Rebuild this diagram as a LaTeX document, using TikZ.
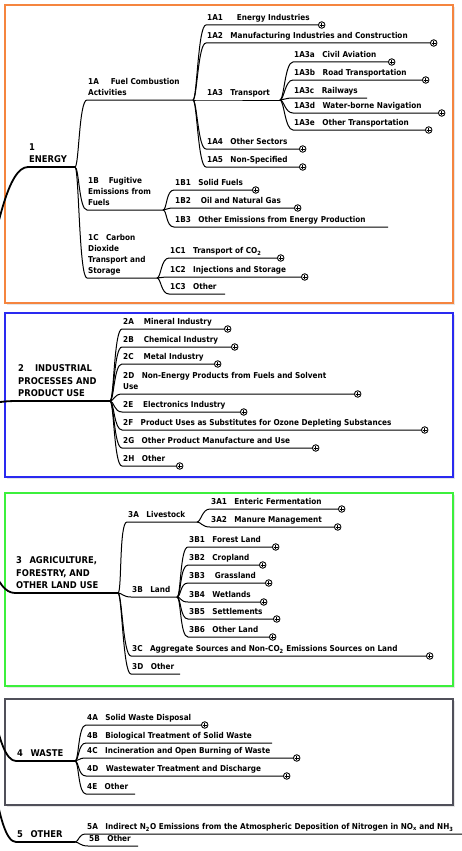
\documentclass[tikz,border=0pt]{standalone}
\usepackage{fontspec}
\setmainfont{DejaVu Sans Condensed}
\usetikzlibrary{shadows}

\definecolor{energyorange}{HTML}{F5853F}
\definecolor{ippublue}{HTML}{2A2AF0}
\definecolor{afolugreen}{HTML}{3CF03C}
\definecolor{wastegray}{HTML}{50505A}

\newcommand\gap[1][7.5pt]{\hspace{#1}}

\tikzset{
  topic/.style={anchor=south west, align=left, inner xsep=1pt, inner ysep=2pt, text depth=2pt,
    font=\fontsize{9.3}{12.5}\selectfont\bfseries},
  subtopic/.style={anchor=south west, align=left, inner xsep=1pt, inner ysep=2pt, text depth=2pt,
    font=\fontsize{8.1}{11}\selectfont\bfseries},
  branch/.style={line width=1pt, draw=black},
  mainbranch/.style={line width=1.8pt, draw=black},
  topline/.style={line width=1.3pt, draw=black},
  expander/.style={circle, draw=black, fill=white, line width=0.9pt, anchor=west,
    minimum size=6.5pt, inner sep=0pt,
    path picture={\draw[line width=0.6pt]
      ([xshift=-1.8pt]path picture bounding box.center) -- ([xshift=1.8pt]path picture bounding box.center)
      ([yshift=-1.8pt]path picture bounding box.center) -- ([yshift=1.8pt]path picture bounding box.center);}},
  sectorbox/.style={draw=#1, line width=1.3pt, fill=white,
    drop shadow={opacity=0.2, shadow xshift=1.5pt, shadow yshift=-2pt}}
}

\begin{document}
\begin{tikzpicture}[x=1pt,y=-1pt]
  \useasboundingbox (0,0) rectangle (461,851);

  % sector frames
  \draw[sectorbox=energyorange] (5,5) rectangle (453,303);
  \draw[sectorbox=ippublue] (5,313) rectangle (453,477);
  \draw[sectorbox=afolugreen] (5,493) rectangle (453,686);
  \draw[sectorbox=wastegray] (5,699) rectangle (453,805);

  \coordinate (root) at (-60,415);

  % 1 energy
  \node[topic] (n1) at (28,167) {1\\ENERGY};
  \draw[mainbranch] (root) .. controls +(40,0) and +(-40,0) .. (n1.south west);
  \draw[topline] (n1.south west) -- ++(47,0) coordinate (e1);

  \node[subtopic] (n1A) at (87,100) {1A\gap[12pt]Fuel Combustion\\Activities};
  \draw[branch] (e1) .. controls +(4,0) and +(-8,0) .. (n1A.south west) -- ++(106,0) coordinate (e1A);
  \node[subtopic] (n1A1) at (206,25) {1A1\gap[14pt]Energy Industries};
  \draw[branch] (e1A) .. controls +(4,0) and +(-8,0) .. (n1A1.south west) -- ++(112,0) node[expander] {};
  \node[subtopic] (n1A2) at (206,43) {1A2\gap Manufacturing Industries and Construction};
  \draw[branch] (e1A) .. controls +(4,0) and +(-8,0) .. (n1A2.south west) -- ++(224,0) node[expander] {};
  \node[subtopic] (n1A3) at (206,100) {1A3\gap Transport};
  \draw[branch] (e1A) .. controls +(4,0) and +(-8,0) .. (n1A3.south west) -- ++(74,0) coordinate (e1A3);
  \node[subtopic] (n1A3a) at (293,62) {1A3a\gap Civil Aviation};
  \draw[branch] (e1A3) .. controls +(4,0) and +(-8,0) .. (n1A3a.south west) -- ++(95,0) node[expander] {};
  \node[subtopic] (n1A3b) at (293,80) {1A3b\gap Road Transportation};
  \draw[branch] (e1A3) .. controls +(4,0) and +(-8,0) .. (n1A3b.south west) -- ++(129,0) node[expander] {};
  \node[subtopic] (n1A3c) at (293,98) {1A3c\gap Railways};
  \draw[branch] (e1A3) .. controls +(4,0) and +(-8,0) .. (n1A3c.south west) -- ++(74,0);
  \node[subtopic] (n1A3d) at (293,113) {1A3d\gap Water-borne Navigation};
  \draw[branch] (e1A3) .. controls +(4,0) and +(-8,0) .. (n1A3d.south west) -- ++(145,0) node[expander] {};
  \node[subtopic] (n1A3e) at (293,130) {1A3e\gap Other Transportation};
  \draw[branch] (e1A3) .. controls +(4,0) and +(-8,0) .. (n1A3e.south west) -- ++(132,0) node[expander] {};
  \node[subtopic] (n1A4) at (206,149) {1A4\gap Other Sectors};
  \draw[branch] (e1A) .. controls +(4,0) and +(-8,0) .. (n1A4.south west) -- ++(93,0) node[expander] {};
  \node[subtopic] (n1A5) at (206,167) {1A5\gap Non-Specified};
  \draw[branch] (e1A) .. controls +(4,0) and +(-8,0) .. (n1A5.south west) -- ++(93,0) node[expander] {};

  \node[subtopic] (n1B) at (87,210) {1B\gap[10pt]Fugitive\\Emissions from\\Fuels};
  \draw[branch] (e1) .. controls +(4,0) and +(-8,0) .. (n1B.south west) -- ++(76,0) coordinate (e1B);
  \node[subtopic] (n1B1) at (174,190) {1B1\gap Solid Fuels};
  \draw[branch] (e1B) .. controls +(4,0) and +(-8,0) .. (n1B1.south west) -- ++(78,0) node[expander] {};
  \node[subtopic] (n1B2) at (174,208) {1B2\gap[10pt]Oil and Natural Gas};
  \draw[branch] (e1B) .. controls +(4,0) and +(-8,0) .. (n1B2.south west) -- ++(120,0) node[expander] {};
  \node[subtopic] (n1B3) at (174,227) {1B3\gap Other Emissions from Energy Production};
  \draw[branch] (e1B) .. controls +(4,0) and +(-8,0) .. (n1B3.south west) -- ++(214,0);

  \node[subtopic] (n1C) at (87,278) {1C\gap Carbon\\Dioxide\\Transport and\\Storage};
  \draw[branch] (e1) .. controls +(4,0) and +(-8,0) .. (n1C.south west) -- ++(70,0) coordinate (e1C);
  \node[subtopic] (n1C1) at (169,258) {1C1\gap Transport of CO\textsubscript{2}};
  \draw[branch] (e1C) .. controls +(4,0) and +(-8,0) .. (n1C1.south west) -- ++(108,0) node[expander] {};
  \node[subtopic] (n1C2) at (169,277) {1C2\gap Injections and Storage};
  \draw[branch] (e1C) .. controls +(4,0) and +(-8,0) .. (n1C2.south west) -- ++(132,0) node[expander] {};
  \node[subtopic] (n1C3) at (169,294) {1C3\gap Other};
  \draw[branch] (e1C) .. controls +(4,0) and +(-8,0) .. (n1C3.south west) -- ++(56,0);

  % 2 industrial processes
  \node[topic] (n2) at (17,401) {2\gap[11pt]INDUSTRIAL\\PROCESSES AND\\PRODUCT USE};
  \draw[mainbranch] (root) .. controls +(40,0) and +(-40,0) .. (n2.south west);
  \draw[topline] (n2.south west) -- ++(93,0) coordinate (e2);
  \node[subtopic] (n2A) at (122,329) {2A\gap[10pt]Mineral Industry};
  \draw[branch] (e2) .. controls +(4,0) and +(-8,0) .. (n2A.south west) -- ++(102,0) node[expander] {};
  \node[subtopic] (n2B) at (122,347) {2B\gap[10pt]Chemical Industry};
  \draw[branch] (e2) .. controls +(4,0) and +(-8,0) .. (n2B.south west) -- ++(109,0) node[expander] {};
  \node[subtopic] (n2C) at (122,364) {2C\gap[10pt]Metal Industry};
  \draw[branch] (e2) .. controls +(4,0) and +(-8,0) .. (n2C.south west) -- ++(92,0) node[expander] {};
  \node[subtopic] (n2D) at (122,394) {2D\gap Non-Energy Products from Fuels and Solvent\\Use};
  \draw[branch] (e2) .. controls +(4,0) and +(-8,0) .. (n2D.south west) -- ++(232,0) node[expander] {};
  \node[subtopic] (n2E) at (122,412) {2E\gap[10pt]Electronics Industry};
  \draw[branch] (e2) .. controls +(4,0) and +(-8,0) .. (n2E.south west) -- ++(118,0) node[expander] {};
  \node[subtopic] (n2F) at (122,430) {2F\gap Product Uses as Substitutes for Ozone Depleting Substances};
  \draw[branch] (e2) .. controls +(4,0) and +(-8,0) .. (n2F.south west) -- ++(299,0) node[expander] {};
  \node[subtopic] (n2G) at (122,448) {2G\gap Other Product Manufacture and Use};
  \draw[branch] (e2) .. controls +(4,0) and +(-8,0) .. (n2G.south west) -- ++(190,0) node[expander] {};
  \node[subtopic] (n2H) at (122,466) {2H\gap Other};
  \draw[branch] (e2) .. controls +(4,0) and +(-8,0) .. (n2H.south west) -- ++(54,0) node[expander] {};

  % 3 afolu
  \node[topic] (n3) at (15,593) {3\gap AGRICULTURE,\\FORESTRY, AND\\OTHER LAND USE};
  \draw[mainbranch] (root) .. controls +(40,0) and +(-40,0) .. (n3.south west);
  \draw[topline] (n3.south west) -- ++(103,0) coordinate (e3);
  \node[subtopic] (n3A) at (127,522) {3A\gap Livestock};
  \draw[branch] (e3) .. controls +(4,0) and +(-8,0) .. (n3A.south west) -- ++(70,0) coordinate (e3A);
  \node[subtopic] (n3A1) at (210,509) {3A1\gap Enteric Fermentation};
  \draw[branch] (e3A) .. controls +(4,0) and +(-8,0) .. (n3A1.south west) -- ++(128,0) node[expander] {};
  \node[subtopic] (n3A2) at (210,527) {3A2\gap Manure Management};
  \draw[branch] (e3A) .. controls +(4,0) and +(-8,0) .. (n3A2.south west) -- ++(124,0) node[expander] {};
  \node[subtopic] (n3B) at (131,597) {3B\gap Land};
  \draw[branch] (e3) .. controls +(4,0) and +(-8,0) .. (n3B.south west) -- ++(46,0) coordinate (e3B);
  \node[subtopic] (n3B1) at (188,547) {3B1\gap Forest Land};
  \draw[branch] (e3B) .. controls +(4,0) and +(-8,0) .. (n3B1.south west) -- ++(84,0) node[expander] {};
  \node[subtopic] (n3B2) at (188,565) {3B2\gap Cropland};
  \draw[branch] (e3B) .. controls +(4,0) and +(-8,0) .. (n3B2.south west) -- ++(71,0) node[expander] {};
  \node[subtopic] (n3B3) at (188,583) {3B3\gap[10pt]Grassland};
  \draw[branch] (e3B) .. controls +(4,0) and +(-8,0) .. (n3B3.south west) -- ++(77,0) node[expander] {};
  \node[subtopic] (n3B4) at (188,602) {3B4\gap Wetlands};
  \draw[branch] (e3B) .. controls +(4,0) and +(-8,0) .. (n3B4.south west) -- ++(72,0) node[expander] {};
  \node[subtopic] (n3B5) at (188,619) {3B5\gap Settlements};
  \draw[branch] (e3B) .. controls +(4,0) and +(-8,0) .. (n3B5.south west) -- ++(85,0) node[expander] {};
  \node[subtopic] (n3B6) at (188,637) {3B6\gap Other Land};
  \draw[branch] (e3B) .. controls +(4,0) and +(-8,0) .. (n3B6.south west) -- ++(81,0) node[expander] {};
  \node[subtopic] (n3C) at (131,656) {3C\gap Aggregate Sources and Non-CO\textsubscript{2} Emissions Sources on Land};
  \draw[branch] (e3) .. controls +(4,0) and +(-8,0) .. (n3C.south west) -- ++(295,0) node[expander] {};
  \node[subtopic] (n3D) at (131,674) {3D\gap Other};
  \draw[branch] (e3) .. controls +(4,0) and +(-8,0) .. (n3D.south west) -- ++(49,0);

  % 4 waste
  \node[topic] (n4) at (16,761) {4\gap WASTE};
  \draw[mainbranch] (root) .. controls +(40,0) and +(-40,0) .. (n4.south west);
  \draw[topline] (n4.south west) -- ++(59,0) coordinate (e4);
  \node[subtopic] (n4A) at (86,725) {4A\gap Solid Waste Disposal};
  \draw[branch] (e4) .. controls +(4,0) and +(-8,0) .. (n4A.south west) -- ++(115,0) node[expander] {};
  \node[subtopic] (n4B) at (86,743) {4B\gap Biological Treatment of Solid Waste};
  \draw[branch] (e4) .. controls +(4,0) and +(-8,0) .. (n4B.south west) -- ++(186,0);
  \node[subtopic] (n4C) at (86,758) {4C\gap Incineration and Open Burning of Waste};
  \draw[branch] (e4) .. controls +(4,0) and +(-8,0) .. (n4C.south west) -- ++(207,0) node[expander] {};
  \node[subtopic] (n4D) at (86,776) {4D\gap Wastewater Treatment and Discharge};
  \draw[branch] (e4) .. controls +(4,0) and +(-8,0) .. (n4D.south west) -- ++(197,0) node[expander] {};
  \node[subtopic] (n4E) at (86,794) {4E\gap Other};
  \draw[branch] (e4) .. controls +(4,0) and +(-8,0) .. (n4E.south west) -- ++(49,0);

  % 5 other
  \node[topic] (n5) at (16,842) {5\gap OTHER};
  \draw[mainbranch] (root) .. controls +(40,0) and +(-40,0) .. (n5.south west);
  \draw[topline] (n5.south west) -- ++(59,0) coordinate (e5);
  \node[subtopic] (n5A) at (86,834) {5A\gap Indirect N\textsubscript{2}O Emissions from the Atmospheric Deposition of Nitrogen in NO\textsubscript{x} and NH\textsubscript{3}};
  \draw[branch] (e5) .. controls +(4,0) and +(-8,0) .. (n5A.south west) -- ++(380,0);
  \node[subtopic] (n5B) at (88,846) {5B\gap Other};
  \draw[branch] (e5) .. controls +(4,0) and +(-8,0) .. (n5B.south west) -- ++(50,0);
\end{tikzpicture}
\end{document}
